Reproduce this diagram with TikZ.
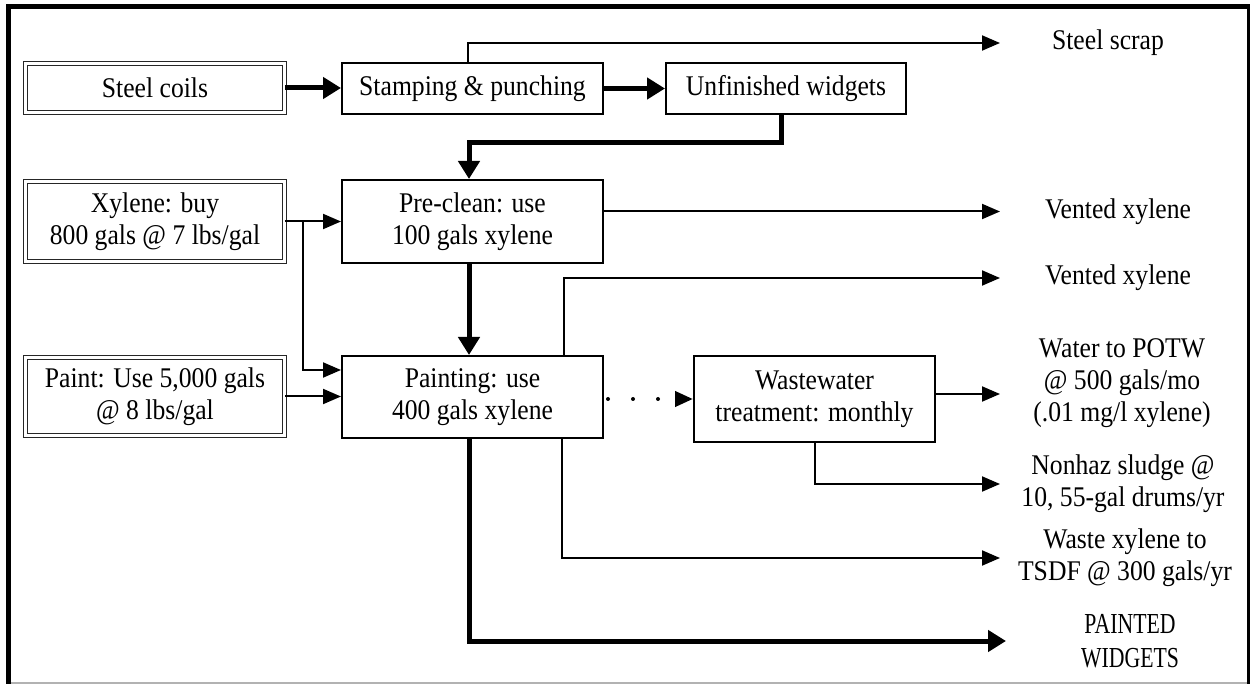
\documentclass[tikz,border=0pt]{standalone}
\usepackage{fontspec}
\setmainfont[FakeStretch=0.9]{Liberation Serif}
\newfontfamily\condfont[FakeStretch=0.75]{Liberation Serif}
\usetikzlibrary{arrows.meta}
\begin{document}
\begin{tikzpicture}[x=1pt,y=-1pt,
  txt/.style={font=\fontsize{28.5}{32}\selectfont, align=center},
  box/.style={txt, draw, line width=2pt, inner sep=0pt},
  srcbox/.style={txt, draw=black!85, double=white, line width=0.7pt, double distance=3.5pt, inner sep=0pt},
  lab/.style={txt, inner sep=0pt},
  thinarrow/.style={line width=2pt, -{Triangle[length=18pt,width=15pt]}},
  thickarrow/.style={line width=5pt, -{Triangle[length=18pt,width=21pt]}},
  dotflow/.style={line width=4pt, line cap=round, dash pattern=on 0pt off 25pt, dash phase=21pt, -{Triangle[length=18pt,width=15pt]}}
]
\useasboundingbox (0,0) rectangle (1251,684);
% frame
\draw[line width=5pt] (8.5,684) -- (8.5,7) -- (1250,7);
\draw[line width=2.5pt] (1248.5,7) -- (1248.5,684);
\draw[black!30, line width=1.5pt] (11,683) -- (1247,683);

% nodes
\node[srcbox, minimum width=259pt, minimum height=49pt] (coils) at (155,88) {Steel coils};
\node[box, minimum width=261pt, minimum height=51pt] (stamp) at (472.5,88.5) {Stamping \& punching};
\node[box, minimum width=240pt, minimum height=51pt] (unf) at (786,88.5) {Unfinished widgets};
\node[srcbox, minimum width=259pt, minimum height=80pt] (xyl) at (155,221.5) {Xylene: buy\\800 gals @ 7 lbs/gal};
\node[box, minimum width=261pt, minimum height=83pt] (pre) at (472.5,221.5) {Pre-clean: use\\100 gals xylene};
\node[srcbox, minimum width=259pt, minimum height=78pt] (paint) at (155,396.5) {Paint: Use 5,000 gals\\@ 8 lbs/gal};
\node[box, minimum width=261pt, minimum height=82pt] (painting) at (472.5,397) {Painting: use\\400 gals xylene};
\node[box, minimum width=241pt, minimum height=86pt] (ww) at (814.5,399) {Wastewater\\treatment: monthly};

% output labels
\node[lab] (scrap) at (1108,43) {Steel scrap};
\node[lab] (v1) at (1118,211.5) {Vented xylene};
\node[lab] (v2) at (1118,278) {Vented xylene};
\node[lab] (water) at (1122,383) {Water to POTW\\@ 500 gals/mo\\(.01 mg/l xylene)};
\node[lab] (nonhaz) at (1123,484) {Nonhaz sludge @\\10, 55-gal drums/yr};
\node[lab] (waste) at (1125,558) {Waste xylene to\\TSDF @ 300 gals/yr};
\node[lab, font=\condfont\fontsize{29}{34}\selectfont] (pw) at (1130,641) {PAINTED\\WIDGETS};

\coordinate (tipx) at (1000,0);
\coordinate (tipy) at (1006,0);
\coordinate (br) at (303,221.5);

% connectors
\draw[thickarrow] (coils.east) -- (coils.east -| stamp.west);
\draw[thickarrow] (stamp.east) -- (unf.west);
\draw[thinarrow] ([xshift=-4.5pt]stamp.north) |- (scrap -| tipx);
\draw[thickarrow] ([xshift=-5pt]unf.south) -- ++(0,28) -| ([xshift=-3.5pt]pre.north);
\draw[thinarrow] (xyl.east) -- (pre.west);
\draw[thinarrow] (br) |- ([yshift=27pt]painting.west);
\draw[thinarrow] (paint.east) -- (paint.east -| painting.west);
\draw[thickarrow] ([xshift=-3.5pt]pre.south) -- ([xshift=-3.5pt]painting.north);
\draw[thinarrow] ([yshift=10pt]pre.east) -- ([yshift=10pt]pre.east -| tipx);
\draw[thinarrow] ([xshift=91pt]painting.north) |- (v2 -| tipx);
\draw[dotflow] (ww.west -| painting.east) -- (ww.west);
\draw[thinarrow] ([yshift=5pt]ww.east) -- ([yshift=5pt]ww.east -| tipx);
\draw[thinarrow] (ww.south) |- (nonhaz -| tipx);
\draw[thinarrow] ([xshift=89.5pt]painting.south) |- (waste -| tipx);
\draw[thickarrow] ([xshift=-3.5pt]painting.south) |- (pw -| tipy);
\end{tikzpicture}
\end{document}
